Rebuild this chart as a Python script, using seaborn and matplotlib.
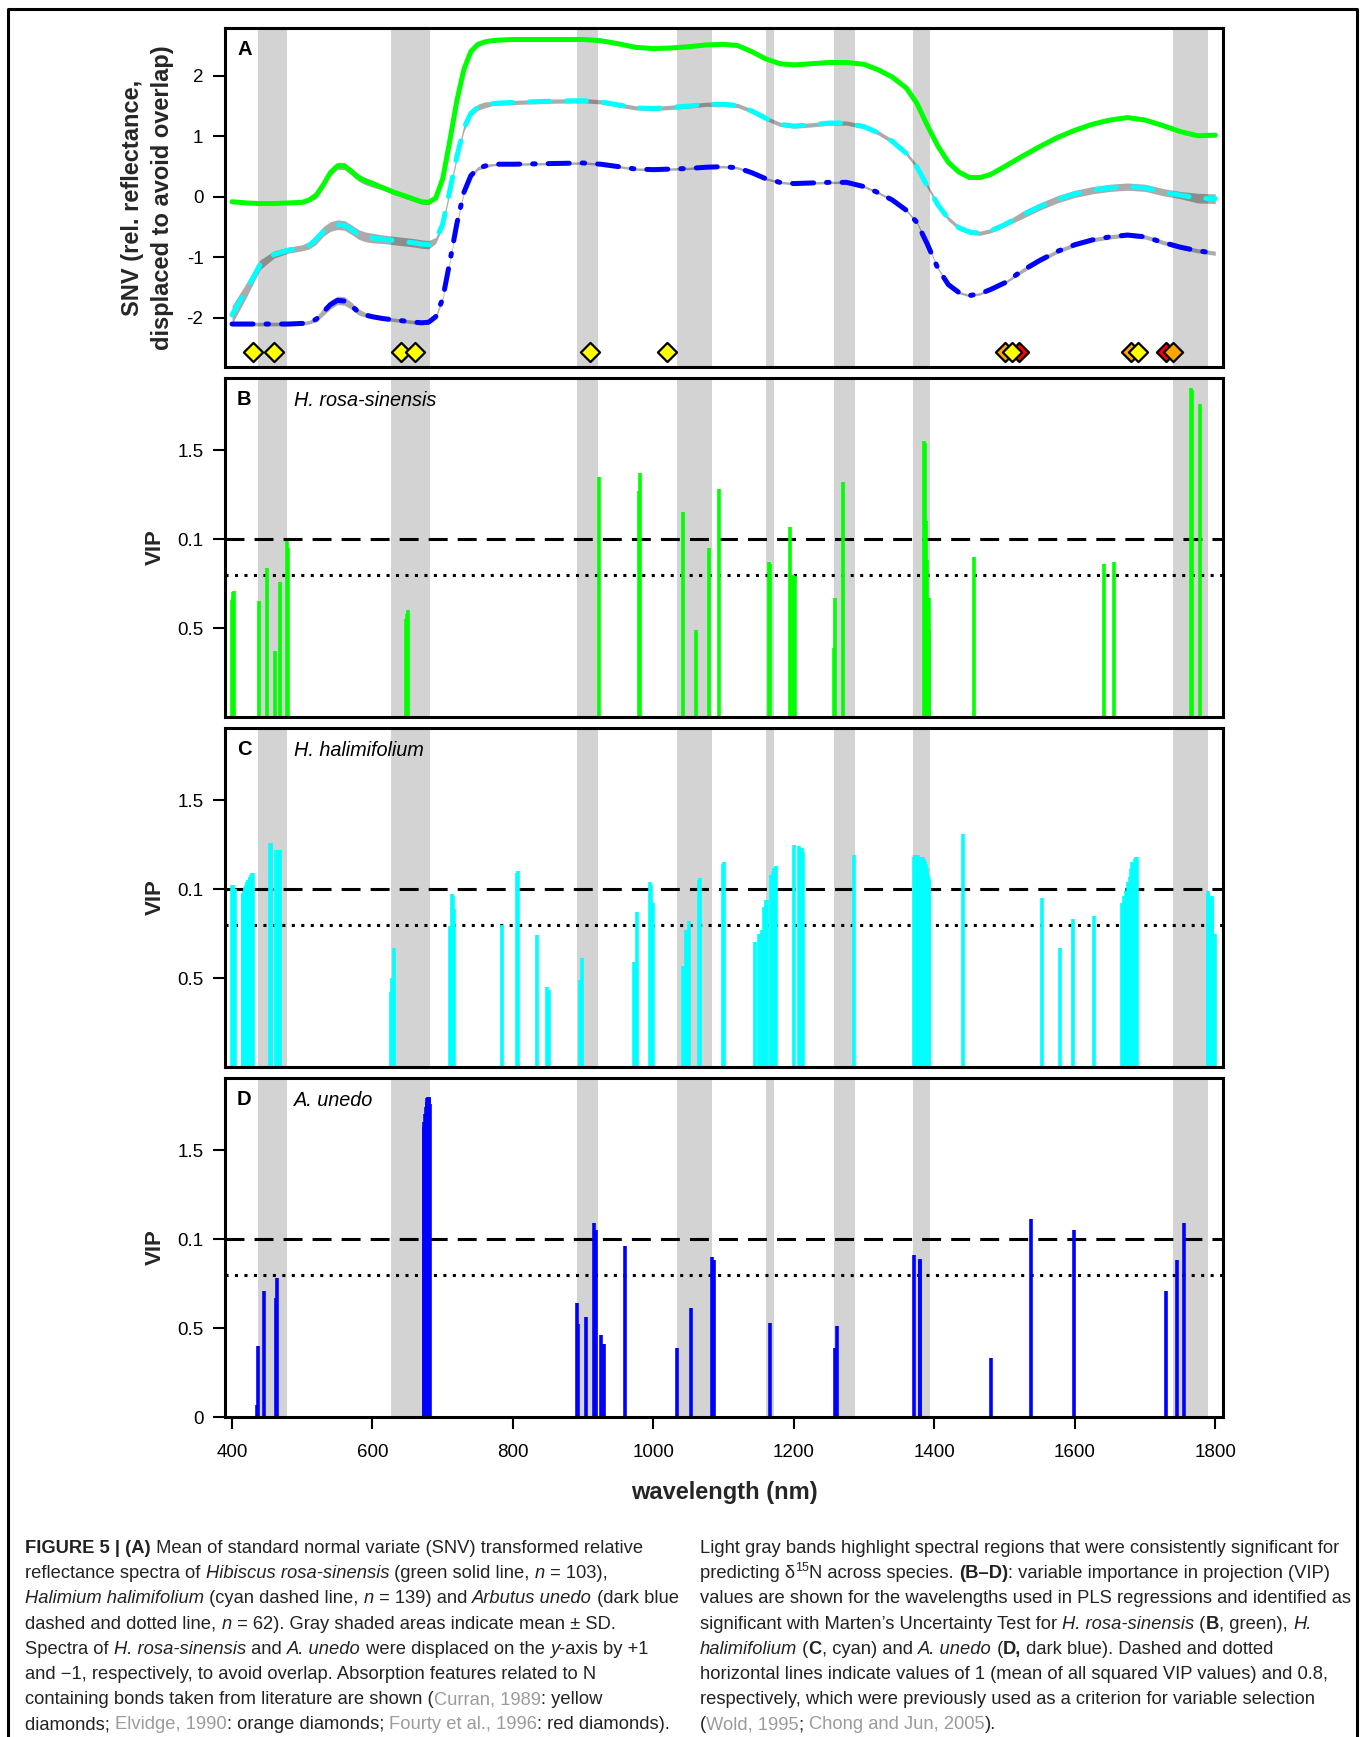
import numpy as np
import matplotlib
matplotlib.use("Agg")
import matplotlib.pyplot as plt
import seaborn as sns
from matplotlib.lines import Line2D

# ---------------------------------------------------------------- data
# Mean SNV spectra (H. rosa-sinensis shifted +1, A. unedo shifted -1)
wl = np.array([400, 420, 440, 460, 480, 500, 510, 520, 530, 540, 550, 560, 570, 580, 590,
               600, 615, 630, 645, 660, 670, 680, 690, 700, 710, 720, 730, 740, 750, 760,
               770, 780, 800, 850, 900, 925, 950, 975, 1000, 1025, 1050, 1075, 1100, 1120,
               1140, 1160, 1180, 1200, 1225, 1250, 1275, 1300, 1320, 1340, 1360, 1375,
               1390, 1405, 1420, 1435, 1450, 1465, 1480, 1500, 1525, 1550, 1575, 1600,
               1625, 1650, 1675, 1700, 1725, 1750, 1775, 1800])
rosa = np.array([-0.08, -0.10, -0.11, -0.11, -0.10, -0.09, -0.05, 0.03, 0.20, 0.40, 0.51,
                 0.51, 0.42, 0.32, 0.26, 0.22, 0.15, 0.08, 0.02, -0.04, -0.08, -0.09, -0.02,
                 0.30, 0.92, 1.58, 2.10, 2.40, 2.52, 2.56, 2.58, 2.59, 2.60, 2.60, 2.60, 2.58,
                 2.53, 2.47, 2.45, 2.46, 2.48, 2.51, 2.52, 2.50, 2.40, 2.28, 2.20, 2.18, 2.20,
                 2.22, 2.22, 2.19, 2.10, 1.98, 1.80, 1.55, 1.18, 0.84, 0.57, 0.41, 0.32, 0.32,
                 0.37, 0.50, 0.67, 0.83, 0.98, 1.10, 1.20, 1.27, 1.31, 1.27, 1.18, 1.08, 1.01,
                 1.02])
rosa_sd = np.array([0.02, 0.02, 0.02, 0.02, 0.02, 0.02, 0.03, 0.06, 0.06, 0.06, 0.06,
                    0.06, 0.06, 0.06, 0.06, 0.06, 0.04, 0.04, 0.04, 0.04, 0.04, 0.04, 0.03,
                    0.03, 0.03, 0.03, 0.03, 0.03, 0.03, 0.03, 0.02, 0.02, 0.02, 0.02, 0.02,
                    0.02, 0.02, 0.02, 0.02, 0.02, 0.02, 0.02, 0.02, 0.02, 0.02, 0.02, 0.02,
                    0.02, 0.02, 0.02, 0.02, 0.02, 0.02, 0.02, 0.02, 0.02, 0.02, 0.02, 0.02,
                    0.02, 0.02, 0.02, 0.02, 0.02, 0.02, 0.02, 0.02, 0.02, 0.02, 0.02, 0.02,
                    0.02, 0.02, 0.02, 0.02, 0.02])
hali = np.array([-1.95, -1.55, -1.12, -0.95, -0.88, -0.84, -0.80, -0.70, -0.57, -0.49,
                 -0.46, -0.47, -0.54, -0.62, -0.66, -0.68, -0.70, -0.72, -0.74, -0.76, -0.78,
                 -0.79, -0.72, -0.45, 0.10, 0.66, 1.13, 1.38, 1.48, 1.52, 1.54, 1.55, 1.56,
                 1.58, 1.59, 1.57, 1.52, 1.47, 1.46, 1.48, 1.50, 1.53, 1.53, 1.51, 1.42,
                 1.30, 1.20, 1.17, 1.19, 1.22, 1.22, 1.16, 1.06, 0.92, 0.72, 0.50, 0.18,
                 -0.13, -0.36, -0.51, -0.58, -0.60, -0.56, -0.46, -0.30, -0.16, -0.04, 0.05,
                 0.11, 0.15, 0.17, 0.15, 0.08, 0.03, -0.02, -0.03])
hali_sd = np.array([0.15, 0.12, 0.08, 0.06, 0.05, 0.05, 0.06, 0.08, 0.08, 0.08, 0.08,
                    0.08, 0.08, 0.08, 0.08, 0.08, 0.07, 0.07, 0.07, 0.07, 0.07, 0.07, 0.05,
                    0.05, 0.05, 0.05, 0.05, 0.05, 0.05, 0.05, 0.035, 0.035, 0.035, 0.035,
                    0.035, 0.035, 0.035, 0.035, 0.035, 0.035, 0.035, 0.035, 0.035, 0.035,
                    0.035, 0.035, 0.035, 0.035, 0.035, 0.035, 0.035, 0.035, 0.035, 0.035,
                    0.035, 0.035, 0.035, 0.035, 0.035, 0.035, 0.035, 0.035, 0.035, 0.035,
                    0.06, 0.06, 0.06, 0.06, 0.06, 0.06, 0.06, 0.06, 0.06, 0.06, 0.08, 0.08])
unedo = np.array([-2.10, -2.10, -2.10, -2.10, -2.10, -2.09, -2.07, -2.02, -1.90, -1.78,
                  -1.71, -1.72, -1.80, -1.90, -1.95, -1.98, -2.01, -2.03, -2.05, -2.07,
                  -2.08, -2.07, -1.98, -1.68, -1.08, -0.45, 0.07, 0.35, 0.47, 0.51, 0.53,
                  0.54, 0.54, 0.55, 0.56, 0.54, 0.50, 0.46, 0.45, 0.46, 0.47, 0.49, 0.50,
                  0.48, 0.40, 0.30, 0.24, 0.22, 0.23, 0.24, 0.24, 0.17, 0.07, -0.05, -0.22,
                  -0.42, -0.78, -1.18, -1.45, -1.58, -1.63, -1.60, -1.53, -1.42, -1.22,
                  -1.05, -0.90, -0.79, -0.71, -0.66, -0.63, -0.66, -0.75, -0.83, -0.89,
                  -0.93])
unedo_sd = np.array([0.03, 0.03, 0.03, 0.03, 0.03, 0.03, 0.03, 0.04, 0.06, 0.07, 0.07,
                     0.07, 0.06, 0.05, 0.04, 0.03, 0.03, 0.03, 0.03, 0.03, 0.03, 0.03,
                     0.03, 0.03, 0.03, 0.03, 0.03, 0.03, 0.03, 0.03, 0.02, 0.02, 0.02,
                     0.02, 0.02, 0.02, 0.02, 0.02, 0.02, 0.02, 0.02, 0.02, 0.02, 0.02,
                     0.02, 0.02, 0.02, 0.02, 0.02, 0.02, 0.02, 0.02, 0.02, 0.02, 0.02,
                     0.02, 0.02, 0.02, 0.02, 0.02, 0.02, 0.02, 0.02, 0.02, 0.035, 0.035,
                     0.035, 0.035, 0.035, 0.035, 0.035, 0.035, 0.035, 0.035, 0.035, 0.035])

# Spectral regions consistently significant across species (nm)
band_lo = [437, 626, 891, 1034, 1161, 1257, 1370, 1740]
band_hi = [478, 682, 921, 1084, 1171, 1287, 1394, 1790]

# Literature N absorption features (nm)
curran_wl = [430, 460, 640, 660, 910, 1020, 1510, 1690]
elvidge_wl = [1500, 1680, 1740]
fourty_wl = [1520, 1730]

# VIP values of significant wavelengths
vip_rosa_wl = [400, 401, 402, 403, 438, 450, 461, 468, 478, 479, 648, 649, 650, 923,
               980, 981, 1042, 1060, 1079, 1094, 1165, 1166, 1194, 1199, 1202, 1257,
               1259, 1270, 1385, 1386, 1388, 1390, 1392, 1393, 1457, 1642, 1656, 1766,
               1767, 1778]
vip_rosa = [0.66, 0.67, 0.70, 0.71, 0.65, 0.84, 0.37, 0.76, 0.99, 0.95, 0.55, 0.58,
            0.60, 1.35, 1.27, 1.37, 1.15, 0.49, 0.95, 1.28, 0.87, 0.86, 1.07, 0.80, 0.79,
            0.39, 0.67, 1.32, 1.55, 1.54, 1.10, 0.88, 0.67, 0.49, 0.90, 0.86, 0.87, 1.85,
            1.84, 1.76]

vip_hali_wl = [400, 401, 402, 403, 404,
               415, 416, 417, 418, 419, 420, 421, 422, 423, 424, 425, 426, 427, 428, 429, 430,
               454, 455, 456, 462, 464, 466, 468,
               627, 628, 630, 711, 713, 714, 716, 784, 806, 807, 834, 849, 851, 896, 899,
               973, 976, 995, 997, 999, 1042, 1047, 1050, 1065, 1067, 1099, 1101, 1145,
               1151, 1154, 1158, 1160, 1162, 1168, 1170, 1172, 1174, 1200, 1208, 1211, 1213,
               1285,
               1371, 1372, 1373, 1374, 1375, 1376, 1377, 1378, 1379, 1380, 1381, 1382, 1383,
               1384, 1385, 1386, 1387, 1388, 1389, 1390, 1391, 1392, 1393,
               1441, 1553, 1579, 1597, 1628,
               1667, 1670, 1673, 1676, 1678, 1680, 1682, 1685, 1687, 1689,
               1789, 1790, 1795, 1796, 1799]
vip_hali = [1.02, 1.02, 1.01, 1.00, 1.00,
            0.97, 0.98, 0.99, 1.00, 1.01, 1.02, 1.03, 1.04, 1.05, 1.05, 1.06, 1.07, 1.08,
            1.08, 1.09, 1.09,
            1.26, 1.26, 1.25, 1.22, 1.22, 1.22, 1.22,
            0.42, 0.50, 0.67, 0.79, 0.97, 0.96, 0.89, 0.80, 1.09, 1.10, 0.74, 0.45, 0.43,
            0.49, 0.61, 0.59, 0.87, 1.04, 1.02, 0.92, 0.57, 0.77, 0.82, 1.05, 1.06, 1.14,
            1.15, 0.70, 0.75, 0.77, 0.90, 0.94, 0.94, 1.08, 1.10, 1.12, 1.13, 1.25, 1.24,
            1.23, 1.21, 1.19,
            1.18, 1.19, 1.19, 1.19, 1.19, 1.19, 1.19, 1.18, 1.18, 1.18, 1.18, 1.18, 1.18,
            1.18, 1.17, 1.16, 1.15, 1.14, 1.12, 1.10, 1.08, 1.06, 1.05,
            1.31, 0.95, 0.67, 0.83, 0.85,
            0.92, 0.96, 0.99, 1.04, 1.07, 1.11, 1.15, 1.17, 1.18, 1.18,
            0.99, 0.98, 0.96, 0.95, 0.75]

vip_unedo_wl = [436, 437, 445, 462, 464, 673, 674, 675, 676, 677, 678, 679, 680, 681, 682,
                891, 893, 904, 916, 918, 926, 929, 959, 1034, 1054, 1084, 1086, 1166,
                1259, 1261, 1371, 1379, 1380, 1480, 1537, 1599, 1730, 1746, 1755]
vip_unedo = [0.07, 0.40, 0.71, 0.67, 0.78, 1.63, 1.66, 1.70, 1.74, 1.77, 1.79, 1.80,
             1.80, 1.79, 1.76, 0.64, 0.52, 0.56, 1.09, 1.05, 0.46, 0.41, 0.96, 0.39, 0.61,
             0.90, 0.88, 0.53, 0.39, 0.51, 0.91, 0.89, 0.88, 0.33, 1.11, 1.05, 0.71, 0.88,
             1.09]

x_ticks = [400, 600, 800, 1000, 1200, 1400, 1600, 1800]
vip_ticks = [0.5, 1.0, 1.5]
vip_tick_labels = ["0.5", "0.1", "1.5"]
snv_ticks = [-2, -1, 0, 1, 2]

# ---------------------------------------------------------------- style
sns.set_theme(style="white")
plt.rcParams['font.family'] = ['Liberation Sans', 'DejaVu Sans']
plt.rcParams['axes.linewidth'] = 2.2
plt.rcParams['axes.edgecolor'] = 'black'

W, H = 1360, 1737
fig = plt.figure(figsize=(W / 100, H / 100), dpi=100)
fig.patch.set_facecolor('white')


def px_rect(left, top, right, bottom):
    return [left / W, 1 - bottom / H, (right - left) / W, (bottom - top) / H]


XLIM = (390, 1811)
TICK_FS = 13.5


def base_axes(rect):
    ax = fig.add_axes(rect)
    ax.set_facecolor('white')
    for lo, hi in zip(band_lo, band_hi):
        ax.axvspan(lo, hi, color='#d3d3d3', lw=0, zorder=0)
    ax.set_xlim(*XLIM)
    ax.set_xticks([])
    ax.tick_params(axis='y', direction='out', length=8.5, width=1.5, color='black',
                   labelsize=TICK_FS, pad=7, left=True, labelcolor='black')
    for s in ax.spines.values():
        s.set_linewidth(2.2)
        s.set_color('black')
        s.set_zorder(10)
    ax.set_xlabel('')
    ax.set_ylabel('')
    return ax


def panel_label(ax, letter, species=None):
    bbox = ax.get_position()
    x0 = bbox.x0 * W
    y1 = (1 - bbox.y1) * H
    fig.text((x0 + 12) / W, 1 - (y1 + 27) / H, letter, fontsize=14.5, fontweight='bold',
             ha='left', va='baseline', color='black')
    if species:
        fig.text((x0 + 69) / W, 1 - (y1 + 28) / H, species, fontsize=14.3, style='italic',
                 ha='left', va='baseline', color='black')


# ---------------------------------------------------------------- panel A
axA = base_axes(px_rect(225, 28, 1223, 367))
axA.set_ylim(-2.81, 2.79)
axA.set_yticks(snv_ticks)
axA.set_yticklabels([str(t) for t in snv_ticks])

spectra = [
    (rosa, rosa_sd, '#00ff00', '-'),
    (hali, hali_sd, '#00ffff', (0, (4.0, 3.4))),
    (unedo, unedo_sd, '#0000ff', (0, (4.2, 2.6, 0.5, 2.6))),
]
for y, sd, col, ls in spectra:
    axA.fill_between(wl, y - sd, y + sd, color='black', alpha=0.33, lw=0, zorder=2)
for y, sd, col, ls in spectra:
    sns.lineplot(x=wl, y=y, ax=axA, color=col, linewidth=3.6, linestyle=ls,
                 legend=False, zorder=3, dash_capstyle='round',
                 solid_capstyle='round', solid_joinstyle='round')

diamond_y = -2.56
for wls, col in [(fourty_wl, '#ff0000'), (elvidge_wl, '#ffa500'), (curran_wl, '#ffff00')]:
    sns.scatterplot(x=wls, y=[diamond_y] * len(wls), ax=axA, marker='D', s=95,
                    color=col, edgecolor='black', linewidth=1.6, zorder=5, legend=False)
axA.set_xlim(*XLIM)
axA.set_xticks([])
axA.set_xlabel('')
axA.set_ylabel('')
panel_label(axA, 'A')

# ---------------------------------------------------------------- panels B-D
vip_sets = [
    ('B', 'H. rosa-sinensis', vip_rosa_wl, vip_rosa, '#00ff00', (378, 717)),
    ('C', 'H. halimifolium', vip_hali_wl, vip_hali, '#00ffff', (728, 1067)),
    ('D', 'A. unedo', vip_unedo_wl, vip_unedo, '#0000ff', (1078, 1417)),
]
vip_axes = []
for letter, species, vwl, vv, col, (top, bot) in vip_sets:
    ax = base_axes(px_rect(225, top, 1223, bot))
    ax.set_ylim(0, 1.905)
    ax.axhline(1.0, color='black', lw=2.2, linestyle=(0, (6.2, 3.3)), zorder=3)
    ax.axhline(0.8, color='black', lw=2.2, linestyle=(0, (1.0, 2.1)), zorder=3)
    ax.vlines(vwl, 0, vv, color=col, lw=2.6, zorder=4)
    if letter == 'D':
        ax.set_yticks([0] + vip_ticks)
        ax.set_yticklabels(["0"] + vip_tick_labels)
    else:
        ax.set_yticks(vip_ticks)
        ax.set_yticklabels(vip_tick_labels)
    panel_label(ax, letter, species)
    vip_axes.append(ax)

axD = vip_axes[-1]
axD.set_xticks(x_ticks)
axD.set_xticklabels([str(t) for t in x_ticks])
axD.tick_params(axis='x', direction='out', length=8.5, width=1.5, color='black',
                labelsize=TICK_FS, pad=11, bottom=True, labelcolor='black')

# axis titles
fig.text(724 / W, 1 - 1492 / H, 'wavelength (nm)', fontsize=17, fontweight='bold',
         ha='center', va='center')
for top, bot in [(378, 717), (728, 1067), (1078, 1417)]:
    fig.text(155 / W, 1 - (top + bot) / 2 / H, 'VIP', fontsize=16, fontweight='bold',
             rotation=90, ha='center', va='center')
fig.text(132 / W, 1 - 197.5 / H, 'SNV (rel. reflectance,', fontsize=17,
         fontweight='bold', rotation=90, ha='center', va='center')
fig.text(162 / W, 1 - 197.5 / H, 'displaced to avoid overlap)', fontsize=17,
         fontweight='bold', rotation=90, ha='center', va='center')

# outer frame of the figure
frame = Line2D([8 / W, 8 / W, 1357 / W, 1357 / W],
               [-0.01, 1 - 9 / H, 1 - 9 / H, -0.01],
               transform=fig.transFigure, color='black', lw=2.2)
fig.add_artist(frame)

# ---------------------------------------------------------------- caption
CAP_FS = 13.2
TXT = '#222222'
GRAY = '#9b9b9b'
styles = {
    'n': dict(color=TXT),
    'b': dict(color=TXT, fontweight='bold'),
    'i': dict(color=TXT, style='italic'),
    'g': dict(color=GRAY),
    'sup': dict(color=TXT, fontsize=CAP_FS * 0.68),
}

renderer = fig.canvas.get_renderer()


def measure(s, kw):
    kw = dict(kw)
    kw.setdefault('fontsize', CAP_FS)
    t1 = fig.text(0, 0, '|' + s + '|', **kw)
    t2 = fig.text(0, 0, '||', **kw)
    w = t1.get_window_extent(renderer).width - t2.get_window_extent(renderer).width
    t1.remove()
    t2.remove()
    return w


def draw_runs(x, y, runs):
    for s, st in runs:
        kw = dict(styles[st])
        kw.setdefault('fontsize', CAP_FS)
        dy = -7 if st == 'sup' else 0
        fig.text(x / W, 1 - (y + dy) / H, s, ha='left', va='baseline', **kw)
        x += measure(s, styles[st])


left_lines = [
    [("FIGURE 5 | (A)", 'b'), (" Mean of standard normal variate (SNV) transformed relative", 'n')],
    [("reflectance spectra of ", 'n'), ("Hibiscus rosa-sinensis", 'i'),
     (" (green solid line, ", 'n'), ("n", 'i'), (" = 103),", 'n')],
    [("Halimium halimifolium", 'i'), (" (cyan dashed line, ", 'n'), ("n", 'i'),
     (" = 139) and ", 'n'), ("Arbutus unedo", 'i'), (" (dark blue", 'n')],
    [("dashed and dotted line, ", 'n'), ("n", 'i'),
     (" = 62). Gray shaded areas indicate mean ± SD.", 'n')],
    [("Spectra of ", 'n'), ("H. rosa-sinensis", 'i'), (" and ", 'n'), ("A. unedo", 'i'),
     (" were displaced on the ", 'n'), ("y", 'i'), ("-axis by +1", 'n')],
    [("and \u22121, respectively, to avoid overlap. Absorption features related to N", 'n')],
    [("containing bonds taken from literature are shown (", 'n'), ("Curran, 1989", 'g'),
     (": yellow", 'n')],
    [("diamonds; ", 'n'), ("Elvidge, 1990", 'g'), (": orange diamonds; ", 'n'),
     ("Fourty et al., 1996", 'g'), (": red diamonds).", 'n')],
]
right_lines = [
    [("Light gray bands highlight spectral regions that were consistently significant for", 'n')],
    [("predicting \u03b4", 'n'), ("15", 'sup'), ("N across species. ", 'n'), ("(B\u2013D)", 'b'),
     (": variable importance in projection (VIP)", 'n')],
    [("values are shown for the wavelengths used in PLS regressions and identified as", 'n')],
    [("significant with Marten\u2019s Uncertainty Test for ", 'n'), ("H. rosa-sinensis", 'i'),
     (" (", 'n'), ("B", 'b'), (", green), ", 'n'), ("H.", 'i')],
    [("halimifolium", 'i'), (" (", 'n'), ("C", 'b'), (", cyan) and ", 'n'), ("A. unedo", 'i'),
     (" (", 'n'), ("D,", 'b'), (" dark blue). Dashed and dotted", 'n')],
    [("horizontal lines indicate values of 1 (mean of all squared VIP values) and 0.8,", 'n')],
    [("respectively, which were previously used as a criterion for variable selection", 'n')],
    [("(", 'n'), ("Wold, 1995", 'g'), ("; ", 'n'), ("Chong and Jun, 2005", 'g'), (").", 'n')],
]

baseline0 = 1553
line_gap = 25.2
for i, runs in enumerate(left_lines):
    draw_runs(25, baseline0 + i * line_gap, runs)
for i, runs in enumerate(right_lines):
    draw_runs(700, baseline0 + i * line_gap, runs)

fig.savefig('out.png', dpi=100, facecolor='white')
